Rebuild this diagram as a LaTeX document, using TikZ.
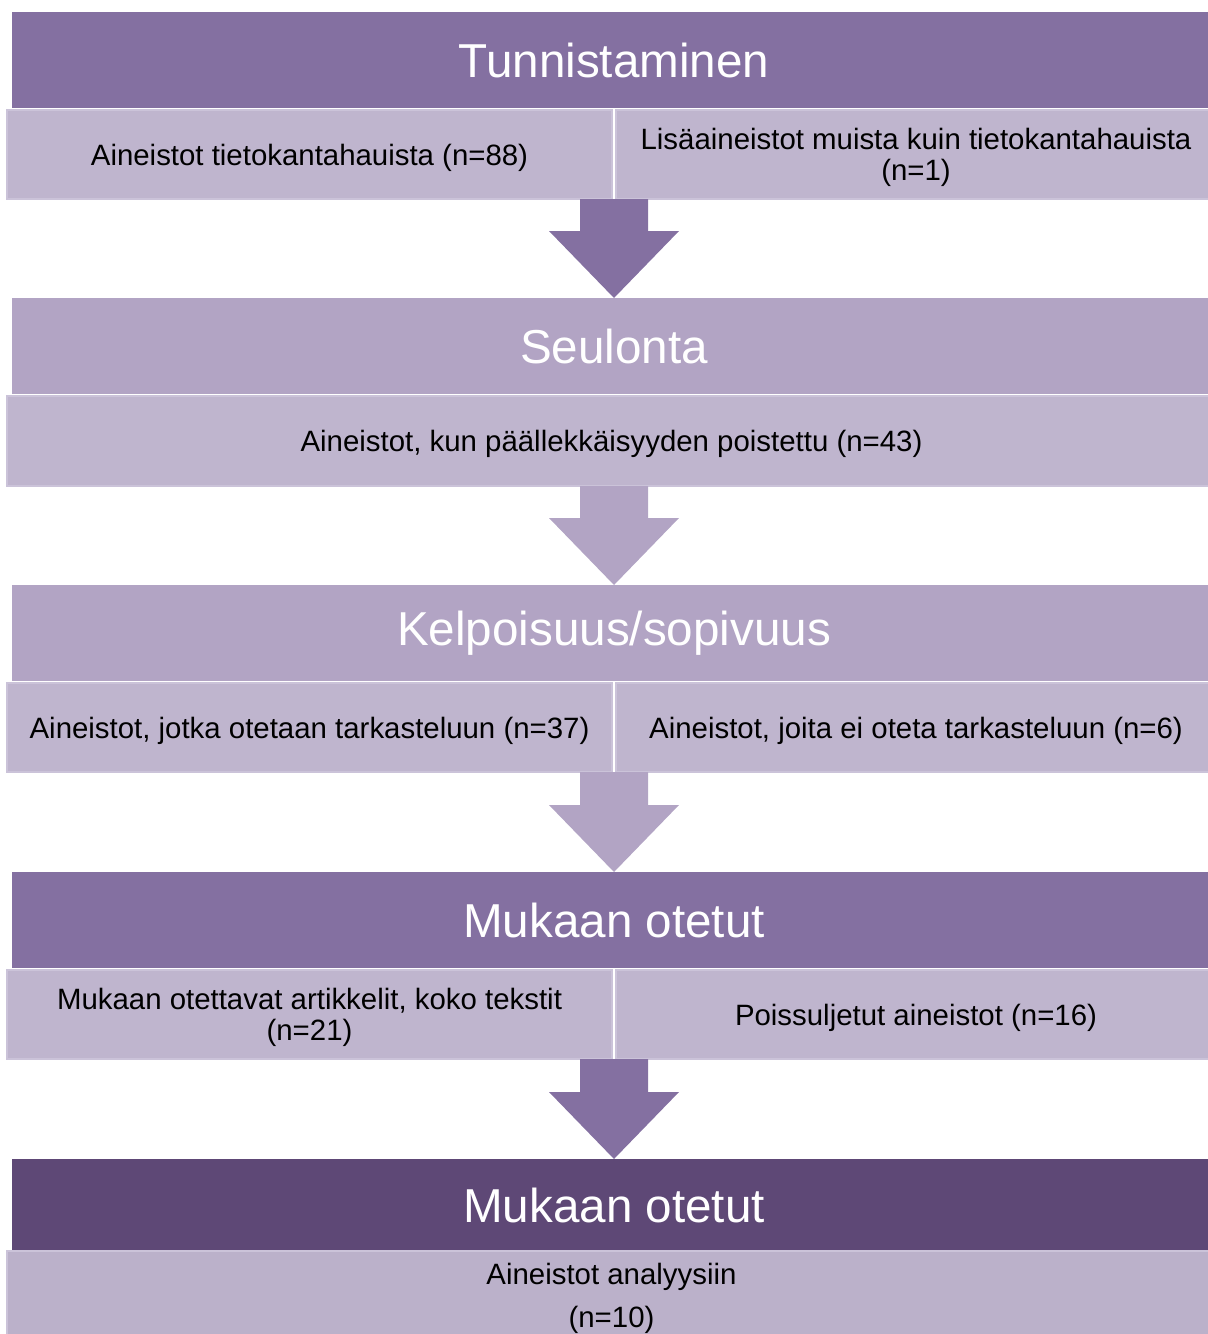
\documentclass[tikz,border=0pt]{standalone}
\usepackage{fontspec}
\setmainfont{Liberation Sans}
\usetikzlibrary{calc}
\definecolor{stagedark}{RGB}{132,112,161}
\definecolor{stagelight}{RGB}{178,164,196}
\definecolor{stagedeep}{RGB}{94,72,118}
\definecolor{subfill}{RGB}{191,181,206}
\definecolor{subfilllast}{RGB}{187,177,202}
\definecolor{subedge}{RGB}{203,195,217}
\tikzset{
  head/.style={rectangle,inner sep=0pt,outer sep=0pt,minimum width=602pt,
    minimum height=48pt,text=white,font=\fontsize{23.8}{28}\selectfont},
  sub/.style={rectangle,inner sep=0pt,outer sep=0pt,fill=subfill,draw=subedge,
    line width=1pt,minimum height=44.5pt,align=center,text depth=0pt,
    font=\fontsize{14.7}{15.5}\selectfont},
  subleft/.style={sub,minimum width=302.5pt},
  subright/.style={sub,minimum width=300pt},
  subfull/.style={sub,minimum width=604.5pt},
}
% block arrow from a box bottom down to the next heading
\newcommand*{\blockarrow}[3]{%
  \fill[#3] ($(#1)+(-34,0)$) -- ($(#1)+(34,0)$) -- ($(#2)+(34,-67)$) --
    ($(#2)+(65,-67)$) -- (#2) -- ($(#2)+(-65,-67)$) -- ($(#2)+(-34,-67)$) -- cycle;}

\begin{document}
\begin{tikzpicture}[x=0.5pt,y=-0.5pt]

\useasboundingbox (0,0) rectangle (1208,1334);

% Tunnistaminen
\node[head,fill=stagedark] (H1) at (614,60) {Tunnistaminen};
\node[subleft] (S1a) at (309.5,154.5) {Aineistot tietokantahauista (n=88)};
\node[subright] (S1b) at (916,154.5)
  {Lisäaineistot muista kuin tietokantahauista\\(n=1)};

% Seulonta
\node[head,fill=stagelight] (H2) at (614,346) {Seulonta};
\node[subfull,minimum height=45pt] (S2) at (611.5,441)
  {Aineistot, kun päällekkäisyyden poistettu (n=43)};

% Kelpoisuus/sopivuus
\node[head,fill=stagelight] (H3) at (614,633) {Kelpoisuus/sopivuus};
\node[subleft] (S3a) at (309.5,727.5) {Aineistot, jotka otetaan tarkasteluun (n=37)};
\node[subright] (S3b) at (916,727.5) {Aineistot, joita ei oteta tarkasteluun (n=6)};

% Mukaan otetut
\node[head,fill=stagedark] (H4) at (614,920) {Mukaan otetut};
\node[subleft] (S4a) at (309.5,1014.5)
  {Mukaan otettavat artikkelit, koko tekstit\\(n=21)};
\node[subright] (S4b) at (916,1014.5) {Poissuljetut aineistot (n=16)};

% Mukaan otetut (final)
\node[head,fill=stagedeep,minimum height=46pt] (H5) at (614,1205) {Mukaan otetut};
\node[subfull,fill=subfilllast,minimum height=44pt,
  font=\fontsize{14.7}{21.5}\selectfont] (S5) at (611.5,1295)
  {Aineistot analyysiin\\(n=10)};

% Arrows
\blockarrow{S1a.south -| H2.north}{H2.north}{stagedark}
\blockarrow{S2.south -| H3.north}{H3.north}{stagelight}
\blockarrow{S3a.south -| H4.north}{H4.north}{stagelight}
\blockarrow{S4a.south -| H5.north}{H5.north}{stagedark}

\end{tikzpicture}
\end{document}
